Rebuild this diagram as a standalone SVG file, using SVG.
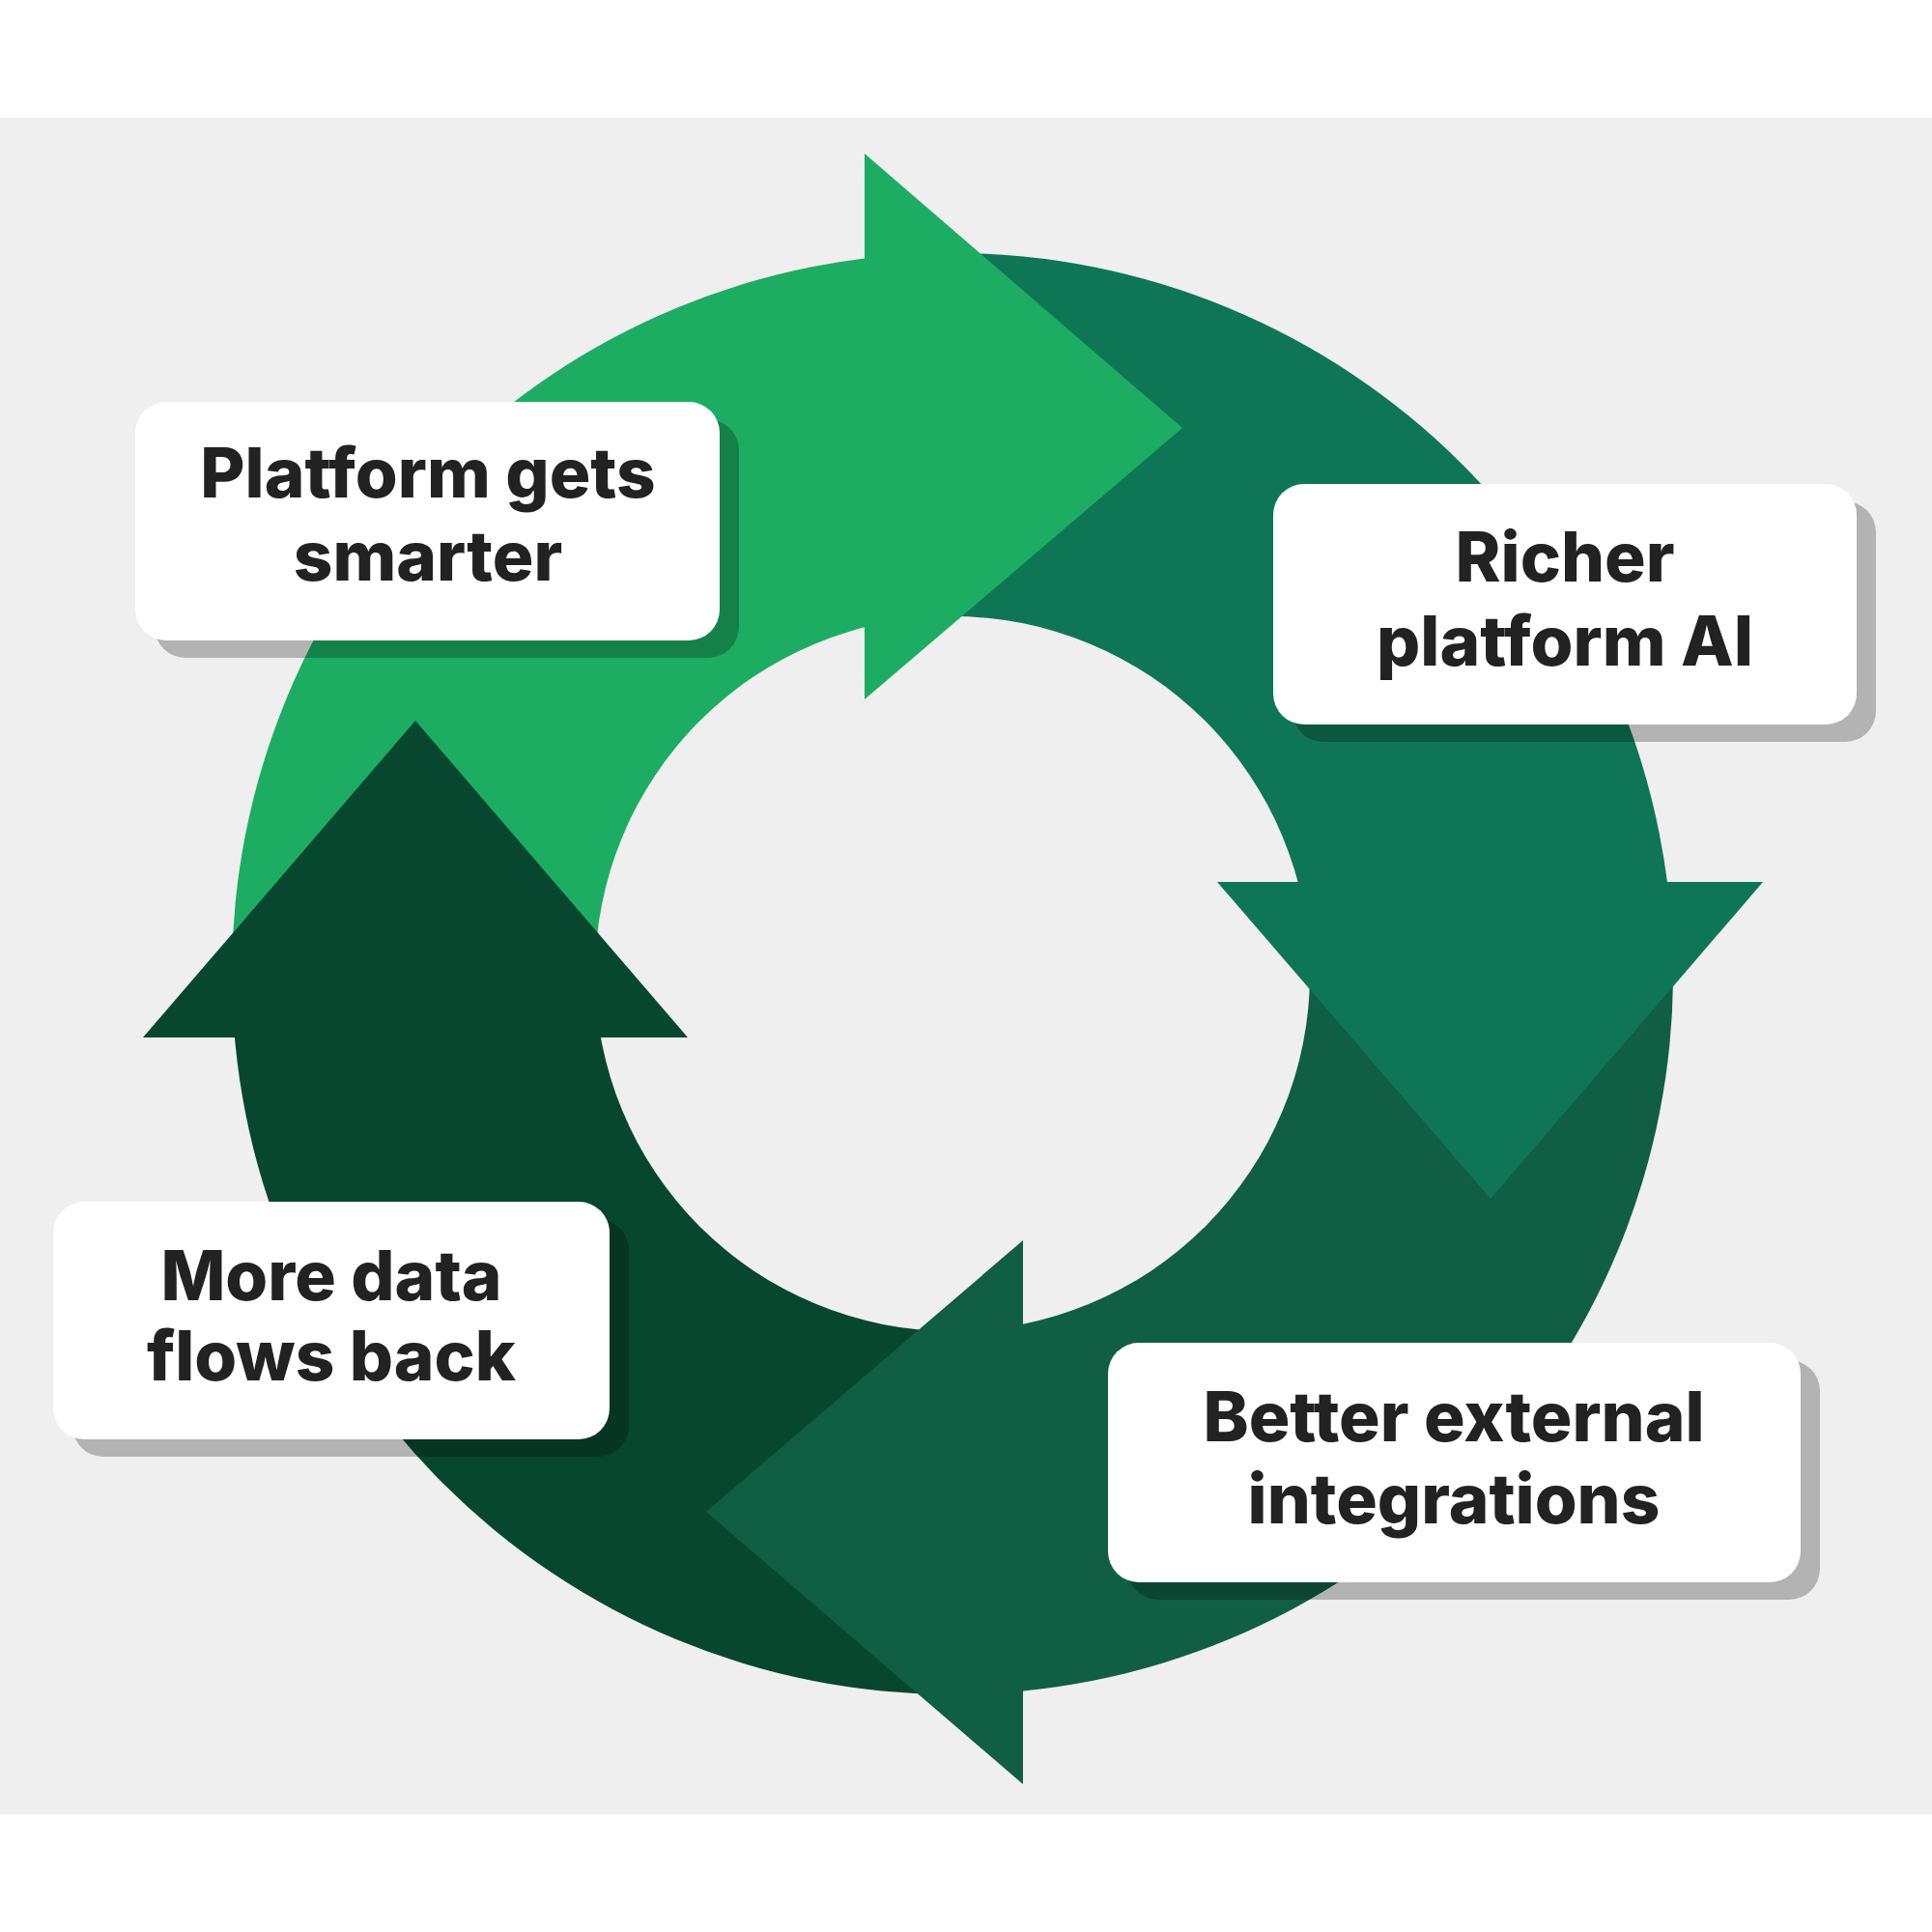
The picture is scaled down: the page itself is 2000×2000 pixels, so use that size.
<svg xmlns="http://www.w3.org/2000/svg" width="2000" height="2000" viewBox="0 0 2000 2000">
<style>
.lbl{font-family:Inter,"Liberation Sans",sans-serif;font-weight:800;font-size:71px;fill:#222;text-anchor:middle}
.box{fill:#fff}
.sh{fill:#000;fill-opacity:0.25}
</style>
<defs>
<path id="ring" fill-rule="evenodd" d="M240,1008a746,746 0 1,0 1492,0a746,746 0 1,0 -1492,0ZM616,1008a370,370 0 1,0 740,0a370,370 0 1,0 -740,0Z"/>
<clipPath id="c1"><rect x="0" y="0" width="895" height="1074"/></clipPath>
<clipPath id="c2"><rect x="895" y="0" width="1105" height="913"/></clipPath>
<clipPath id="c3"><rect x="1059" y="913" width="941" height="1087"/></clipPath>
<clipPath id="c4"><rect x="0" y="1074" width="1059" height="926"/></clipPath>
</defs>
<rect width="2000" height="2000" fill="#fff"/>
<rect x="0" y="122" width="2000" height="1756" fill="#efefef"/>
<g id="cycle">
<use href="#ring" fill="#1dad62" clip-path="url(#c1)"/>
<use href="#ring" fill="#0f7655" clip-path="url(#c2)"/>
<use href="#ring" fill="#105e43" clip-path="url(#c3)"/>
<use href="#ring" fill="#08472f" clip-path="url(#c4)"/>
<polygon points="895,159 1224,443 895,724" fill="#1dad62"/>
<polygon points="1260,913 1825,913 1543,1241" fill="#0f7655"/>
<polygon points="1059,1284 731,1565 1059,1847" fill="#105e43"/>
<polygon points="148,1074 430,746 712,1074" fill="#08472f"/>
</g>
<g id="n1">
<rect class="sh" x="160" y="434" width="605" height="247" rx="32"/>
<rect class="box" x="140" y="416" width="605" height="247" rx="32"/>
<text class="lbl" x="443" y="515">Platform gets</text>
<text class="lbl" x="443" y="601">smarter</text>
</g>
<g id="n2">
<rect class="sh" x="1338" y="519" width="604" height="249" rx="32"/>
<rect class="box" x="1318" y="501" width="604" height="249" rx="32"/>
<text class="lbl" x="1620" y="602">Richer</text>
<text class="lbl" x="1620" y="689">platform AI</text>
</g>
<g id="n3">
<rect class="sh" x="75" y="1262" width="576" height="246" rx="32"/>
<rect class="box" x="55" y="1244" width="576" height="246" rx="32"/>
<text class="lbl" x="343" y="1346">More data</text>
<text class="lbl" x="343" y="1429">flows back</text>
</g>
<g id="n4">
<rect class="sh" x="1167" y="1408" width="717" height="248" rx="32"/>
<rect class="box" x="1147" y="1390" width="717" height="248" rx="32"/>
<text class="lbl" x="1505" y="1492">Better external</text>
<text class="lbl" x="1505" y="1577">integrations</text>
</g>
</svg>
